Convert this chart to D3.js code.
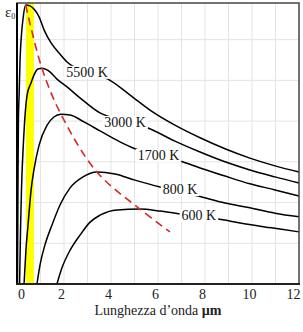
<!DOCTYPE html>
<html>
<head>
<meta charset="utf-8">
<script src="https://cdn.jsdelivr.net/npm/d3@7"></script>
<style>
  body { margin: 0; background: #fff; }
  svg { display: block; }
  .grid line { stroke: #e4e4e4; stroke-width: 1; }
  .curve { fill: none; stroke: #000; stroke-width: 1.5; }
  .lbl { font-family: "Liberation Serif", serif; font-size: 14px; fill: #111; }
</style>
</head>
<body>
<svg class="chart"></svg>
<script>
// wavelength (µm) vs emissive power (arbitrary units)
var curve5500 = [[0.02,0],[0.04,2.31],[0.06,4.03],[0.09,4.64],[0.13,5.50],[0.19,6.12],[0.26,6.53],[0.37,6.85],[0.55,6.83],[0.72,6.75],[0.94,6.56],[1.15,6.24],[1.45,5.92],[1.79,5.67],[2.13,5.45],[3.0,5.2],[3.87,5.03],[4.81,4.64],[5.66,4.27],[6.72,3.90],[7.79,3.59],[8.85,3.32],[9.91,3.09],[10.98,2.90],[12,2.75]];
var curve3000 = [[0.11,0],[0.15,1.33],[0.19,2.31],[0.28,3.54],[0.36,4.27],[0.43,4.64],[0.60,4.94],[0.72,5.13],[0.89,5.28],[1.06,5.30],[1.28,5.26],[1.40,5.21],[1.70,5.03],[2.13,4.84],[2.68,4.57],[3.53,4.20],[4.6,4.0],[5.57,3.83],[6.72,3.51],[7.79,3.24],[8.85,3.00],[9.91,2.80],[10.98,2.63],[12,2.48]];
var curve1700 = [[0.30,0],[0.38,0.83],[0.47,1.45],[0.60,2.31],[0.72,2.80],[0.94,3.41],[1.28,3.90],[1.57,4.10],[1.87,4.17],[2.26,4.15],[2.85,3.98],[3.53,3.76],[4.38,3.49],[5.02,3.32],[6.0,3.15],[6.94,3.02],[7.79,2.85],[8.85,2.65],[9.91,2.46],[10.98,2.31],[12,2.16]];
var curve800 = [[0.85,0],[0.98,0.47],[1.19,0.96],[1.49,1.45],[1.83,1.94],[2.26,2.36],[2.81,2.63],[3.40,2.75],[4.17,2.70],[5.02,2.55],[6.09,2.38],[6.9,2.27],[7.70,2.16],[8.85,1.99],[9.91,1.87],[10.98,1.74],[12,1.65]];
var curve600 = [[1.70,0],[1.91,0.39],[2.26,0.83],[2.68,1.20],[3.11,1.52],[3.53,1.69],[4.26,1.82],[5.23,1.84],[6.09,1.79],[6.94,1.72],[7.7,1.66],[8.51,1.60],[9.49,1.50],[10.34,1.42],[11.19,1.35],[12,1.28]];
var curves = [curve5500, curve3000, curve1700, curve800, curve600];

// locus of the maxima (red dashed)
var peaks = [[0.37,6.85],[1.06,5.30],[1.87,4.17],[3.40,2.75],[5.23,1.84],[6.51,1.28]];

// visible band, µm
var visible = [0.38, 0.72];

var labelText = ["5500 K", "3000 K", "1700 K", "800 K", "600 K"];
var labelPos = [[2.98,5.21],[4.60,3.98],[6.02,3.17],[6.94,2.33],[7.74,1.69]];

var xTicks = [0, 2, 4, 6, 8, 10, 12];

var width = 303;
var height = 332;
var margin = { top: 3, right: 4, bottom: 48, left: 17 };

var svg = d3.select(".chart")
    .attr("width", width)
    .attr("height", height);

var x = d3.scaleLinear().domain([0, 12]).range([margin.left, width - margin.right]);
var y = d3.scaleLinear().domain([0, 6.9]).range([height - margin.bottom, margin.top]);

// grid
var grid = svg.append("g").attr("class", "grid");
grid.selectAll(".gx")
    .data(d3.range(1, 12))
    .enter().append("line")
    .attr("x1", function(d) { return x(d); })
    .attr("x2", function(d) { return x(d); })
    .attr("y1", y(0))
    .attr("y2", y(6.9));
grid.selectAll(".gy")
    .data(d3.range(1, 7))
    .enter().append("line")
    .attr("x1", x(0))
    .attr("x2", x(12))
    .attr("y1", function(d) { return y(d); })
    .attr("y2", function(d) { return y(d); });

// visible light band
svg.append("rect")
    .attr("x", x(visible[0]))
    .attr("width", x(visible[1]) - x(visible[0]))
    .attr("y", y(6.9))
    .attr("height", y(0) - y(6.9))
    .attr("fill", "#ffff00");

var line = d3.line()
    .x(function(d) { return x(d[0]); })
    .y(function(d) { return y(d[1]); })
    .curve(d3.curveMonotoneX);

svg.append("g")
    .selectAll("path")
    .data(curves)
    .enter().append("path")
    .attr("class", "curve")
    .attr("d", line);

svg.append("path")
    .datum(peaks)
    .attr("fill", "none")
    .attr("stroke", "#d42a2a")
    .attr("stroke-width", 1.6)
    .attr("stroke-dasharray", "8,5")
    .attr("d", d3.line()
        .x(function(d) { return x(d[0]); })
        .y(function(d) { return y(d[1]); })
        .curve(d3.curveCatmullRom));

// temperature labels, sitting in a gap of their curve
var labels = svg.append("g")
    .selectAll("g")
    .data(labelText)
    .enter().append("g")
    .attr("transform", function(d, i) {
        return "translate(" + x(labelPos[i][0]) + "," + y(labelPos[i][1]) + ")";
    });
labels.append("text")
    .attr("class", "lbl")
    .attr("text-anchor", "middle")
    .attr("y", 5)
    .text(function(d) { return d; });
labels.each(function() {
    var g = d3.select(this);
    var b = g.select("text").node().getBBox();
    g.insert("rect", "text")
        .attr("x", b.x - 2)
        .attr("y", b.y + 1)
        .attr("width", b.width + 4)
        .attr("height", b.height - 2)
        .attr("fill", "#fff");
});

// frame
svg.append("rect")
    .attr("x", x(0))
    .attr("y", y(6.9))
    .attr("width", x(12) - x(0))
    .attr("height", y(0) - y(6.9))
    .attr("fill", "none")
    .attr("stroke", "#444")
    .attr("stroke-width", 1.5);
svg.append("line")
    .attr("x1", x(0)).attr("x2", x(0))
    .attr("y1", y(6.9)).attr("y2", y(0) + 1)
    .attr("stroke", "#000").attr("stroke-width", 2);
svg.append("line")
    .attr("x1", x(0) - 1).attr("x2", x(12) + 1)
    .attr("y1", y(0)).attr("y2", y(0))
    .attr("stroke", "#222").attr("stroke-width", 2.2);

// x axis labels only
var xAxis = svg.append("g")
    .attr("transform", "translate(0," + y(0) + ")")
    .call(d3.axisBottom(x).tickValues(xTicks).tickSize(0).tickPadding(5));
xAxis.select(".domain").remove();
xAxis.selectAll("text")
    .attr("font-family", "Liberation Serif, serif")
    .attr("font-size", 14)
    .attr("fill", "#222")
    .attr("text-anchor", function(d) { return d === 0 ? "start" : (d === 12 ? "end" : "middle"); })
    .attr("dx", function(d) { return d === 0 ? 0.5 : (d === 12 ? 1 : -3); });

var title = svg.append("text")
    .attr("x", 158)
    .attr("y", 315)
    .attr("text-anchor", "middle")
    .attr("font-family", "Liberation Serif, serif")
    .attr("font-size", 14)
    .attr("fill", "#222");
title.append("tspan").text("Lunghezza d\u2019onda ");
title.append("tspan").attr("font-weight", "bold").text("\u00b5m");

var yLab = svg.append("text")
    .attr("x", 5)
    .attr("y", 17)
    .attr("font-family", "Liberation Serif, serif")
    .attr("font-size", 15)
    .attr("fill", "#222");
yLab.append("tspan").text("\u03b5");
yLab.append("tspan").attr("font-size", 8).attr("dy", 2).text("0");
</script>
</body>
</html>
